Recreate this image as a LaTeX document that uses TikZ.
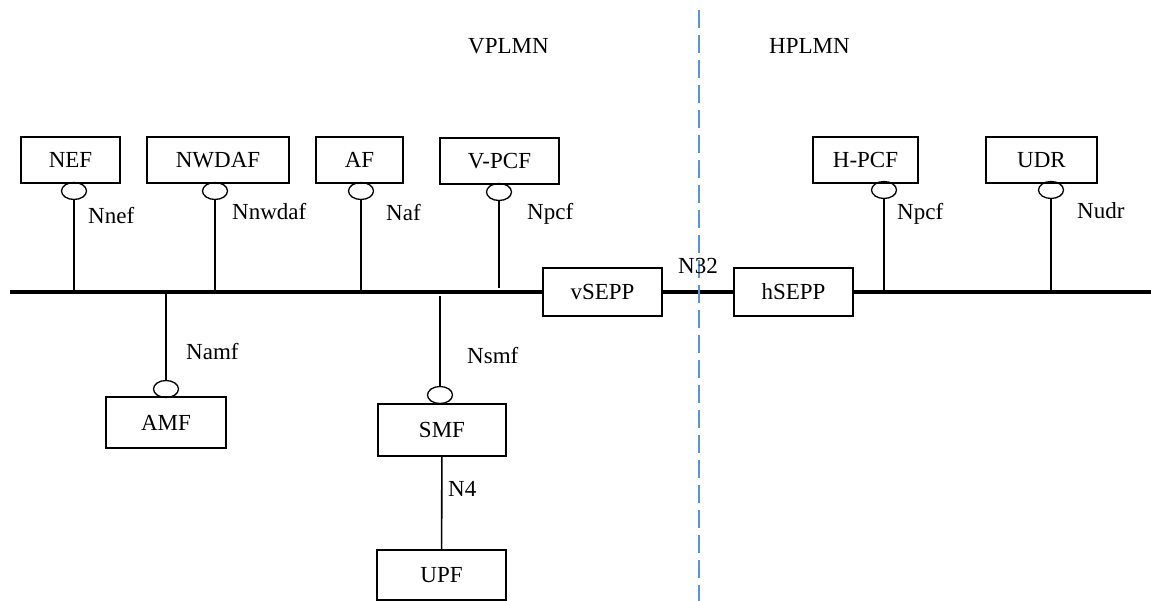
\documentclass[tikz,border=0pt]{standalone}
\usepackage{fontspec}
\setmainfont{Liberation Serif}
\usepackage{tikz}
\usetikzlibrary{shapes,positioning}
\definecolor{splitblue}{RGB}{88,148,218}

\begin{document}
\begin{tikzpicture}[x=1pt,y=-1pt]
  \tikzset{font=\fontsize{23}{27}\selectfont}
  \tikzset{nf/.style = {shape=rectangle,draw,line width=1.3pt,minimum height=46pt,inner sep=0pt}}
  \tikzset{iface/.style = {shape=ellipse,draw,line width=1.3pt,minimum width=25pt,minimum height=17pt,inner sep=0pt}}
  \tikzset{lbl/.style = {anchor=base west,inner sep=0pt}}
  \tikzset{bus/.style = {draw=black,line width=4pt}}

  \useasboundingbox (0,0) rectangle (1151,601);

  % network functions
  \node[nf,minimum width=99pt]  (nef)   at (70.5,160)  {NEF};
  \node[nf,minimum width=142pt] (nwdaf) at (218,160)   {NWDAF};
  \node[nf,minimum width=87pt]  (af)    at (359.5,160) {AF};
  \node[nf,minimum width=119pt] (vpcf)  at (499.5,161) {V-PCF};
  \node[nf,minimum width=105pt] (hpcf)  at (865.5,160) {H-PCF};
  \node[nf,minimum width=111pt] (udr)   at (1041.5,160) {UDR};
  \node[nf,minimum width=119pt,minimum height=48pt] (vsepp) at (602.5,292) {vSEPP};
  \node[nf,minimum width=119pt,minimum height=48pt] (hsepp) at (793.5,292) {hSEPP};
  \node[nf,minimum width=120pt,minimum height=51pt] (amf) at (166,422.5) {AMF};
  \node[nf,minimum width=128pt,minimum height=52pt] (smf) at (442,430)   {SMF};
  \node[nf,minimum width=129pt,minimum height=50pt] (upf) at (441.5,575) {UPF};

  % service interfaces
  \node[iface] (nefif)   at (74,191)  {};
  \node[iface] (nwdafif) at (215,191) {};
  \node[iface] (afif)    at (361,191) {};
  \node[iface] (vpcfif)  at (499,192) {};
  \node[iface] (hpcfif)  at (884,190) {};
  \node[iface] (udrif)   at (1051,190) {};
  \node[iface] (amfif)   at (166,389) {};
  \node[iface] (smfif)   at (440,395) {};

  % service bus
  \coordinate (busl) at (10,292);
  \coordinate (busr) at (1151,292);
  \coordinate (nefb)   at (74,292);
  \coordinate (nwdafb) at (215,292);
  \coordinate (afb)    at (361,292);
  \coordinate (vpcfb)  at (499,288);
  \coordinate (hpcfb)  at (884,292);
  \coordinate (udrb)   at (1051,292);
  \coordinate (amfb)   at (166,292);
  \coordinate (smfb)   at (440,296);

  \path[bus] (busl) -- (vsepp.west) (vsepp.east) -- (hsepp.west) (hsepp.east) -- (busr);

  \path[every edge/.style={draw=black,line width=1.6pt}]
  (nefif)   edge (nefb)
  (nwdafif) edge (nwdafb)
  (afif)    edge (afb)
  (vpcfif)  edge (vpcfb)
  (hpcfif)  edge (hpcfb)
  (udrif)   edge (udrb)
  (amfb)    edge (amfif)
  (smfb)    edge (smfif)
  (smf)     edge (upf)
  ;

  \node[lbl] (lnef)   at (88,224)  {Nnef};
  \node[lbl] (lnwdaf) at (232,220) {Nnwdaf};
  \node[lbl] (laf)    at (386,221) {Naf};
  \node[lbl] (lvpcf)  at (527,220) {Npcf};
  \node[lbl] (lhpcf)  at (897,220) {Npcf};
  \node[lbl] (ludr)   at (1077,219) {Nudr};
  \node[lbl] (lamf)   at (186,360) {Namf};
  \node[lbl] (lsmf)   at (467,363) {Nsmf};
  \node[lbl] (ln4)    at (448,496) {N4};

  % PLMN border
  \coordinate (bordtop) at (699,10);
  \coordinate (bordbot) at (699,601);
  \draw[splitblue,line width=2pt,dash pattern=on 18pt off 7pt] (bordtop) -- (bordbot);

  \node[lbl] (ln32)  at (678,274) {N32};
  \node[lbl] (vplmn) at (468,54)  {VPLMN};
  \node[lbl] (hplmn) at (769,54)  {HPLMN};
\end{tikzpicture}
\end{document}
